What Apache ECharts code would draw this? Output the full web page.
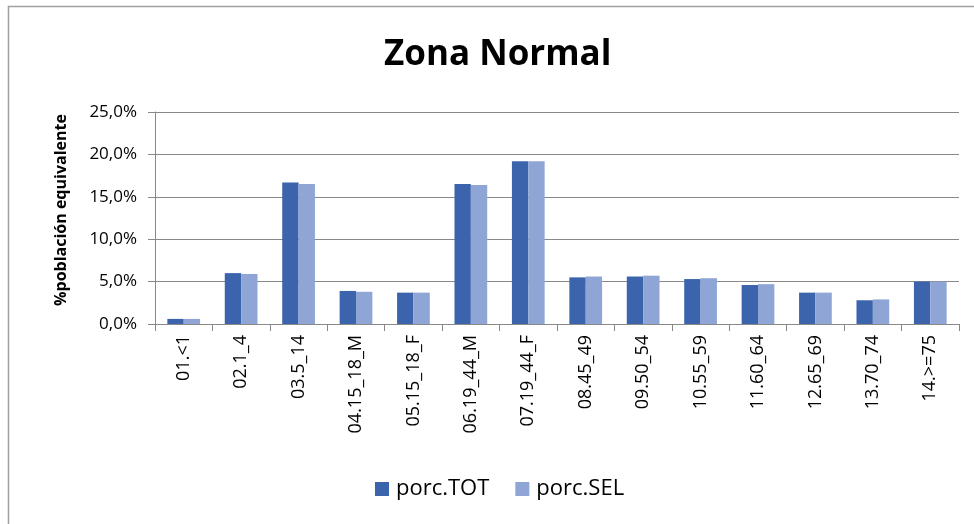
<!DOCTYPE html>
<html>
<head>
<meta charset="utf-8">
<script src="https://cdn.jsdelivr.net/npm/echarts@6/dist/echarts.min.js"></script>
<style>
html,body{margin:0;padding:0;background:#fff;}
#chart{width:974px;height:524px;}
</style>
</head>
<body>
<div id="chart"></div>
<script>
var categories = ['01.<1','02.1_4','03.5_14','04.15_18_M','05.15_18_F','06.19_44_M','07.19_44_F','08.45_49','09.50_54','10.55_59','11.60_64','12.65_69','13.70_74','14.>=75'];
var porcTOT = [0.6, 6.0, 16.7, 3.9, 3.7, 16.5, 19.2, 5.5, 5.6, 5.3, 4.6, 3.7, 2.8, 5.0];
var porcSEL = [0.6, 5.9, 16.5, 3.8, 3.7, 16.4, 19.2, 5.6, 5.7, 5.4, 4.7, 3.7, 2.9, 5.0];
var seriesNames = ['porc.TOT', 'porc.SEL'];
var titleText = 'Zona Normal';
var yAxisName = '%población equivalente';

var FONT = '"Open Sans", Lato, sans-serif';
var chart = echarts.init(document.getElementById('chart'), null, {renderer: 'canvas'});
chart.setOption({
  animation: false,
  backgroundColor: '#fff',
  title: {
    text: titleText,
    left: 384,
    top: 38,
    padding: 0,
    textStyle: {fontFamily: FONT, fontWeight: 'bold', fontSize: 35, color: '#000'}
  },
  graphic: [{
    type: 'rect',
    shape: {x: 8.5, y: 6.5, width: 1000, height: 1000},
    style: {fill: 'none', stroke: '#a0a0a0', lineWidth: 1.5},
    silent: true
  }],
  legend: {
    data: seriesNames,
    left: 375,
    top: 478,
    padding: 0,
    itemWidth: 14,
    itemHeight: 14,
    itemGap: 26,
    icon: 'rect',
    textStyle: {fontFamily: FONT, fontSize: 22, color: '#000', padding: [0, 0, 0, 2]}
  },
  grid: {left: 155, right: 15, top: 112, bottom: 200, containLabel: false},
  xAxis: {
    type: 'category',
    data: categories,
    axisLine: {lineStyle: {color: '#888', width: 1}},
    axisTick: {show: true, length: 7, lineStyle: {color: '#888'}},
    axisLabel: {rotate: 90, margin: 11, interval: 0, fontFamily: FONT, fontSize: 18, color: '#000'},
    splitLine: {show: false}
  },
  yAxis: {
    type: 'value',
    min: 0,
    max: 25,
    interval: 5,
    name: yAxisName,
    nameLocation: 'middle',
    nameGap: 86,
    nameTextStyle: {fontFamily: FONT, fontWeight: 'bold', fontSize: 16, color: '#000', padding: [0, 0, 0, 16]},
    axisLine: {show: true, lineStyle: {color: '#888', width: 1}},
    axisTick: {show: true, length: 7, lineStyle: {color: '#888'}},
    axisLabel: {
      margin: 18,
      fontFamily: FONT, fontSize: 17, color: '#000',
      formatter: function (v) { return v.toFixed(1).replace('.', ',') + '%'; }
    },
    splitLine: {show: true, lineStyle: {color: '#888', width: 1}}
  },
  series: [
    {name: seriesNames[0], type: 'bar', data: porcTOT, barGap: '0%', barCategoryGap: '43%',
     itemStyle: {color: '#3b64ad'}},
    {name: seriesNames[1], type: 'bar', data: porcSEL, barGap: '0%', barCategoryGap: '43%',
     itemStyle: {color: '#8fa5d5'}}
  ]
});
</script>
</body>
</html>
